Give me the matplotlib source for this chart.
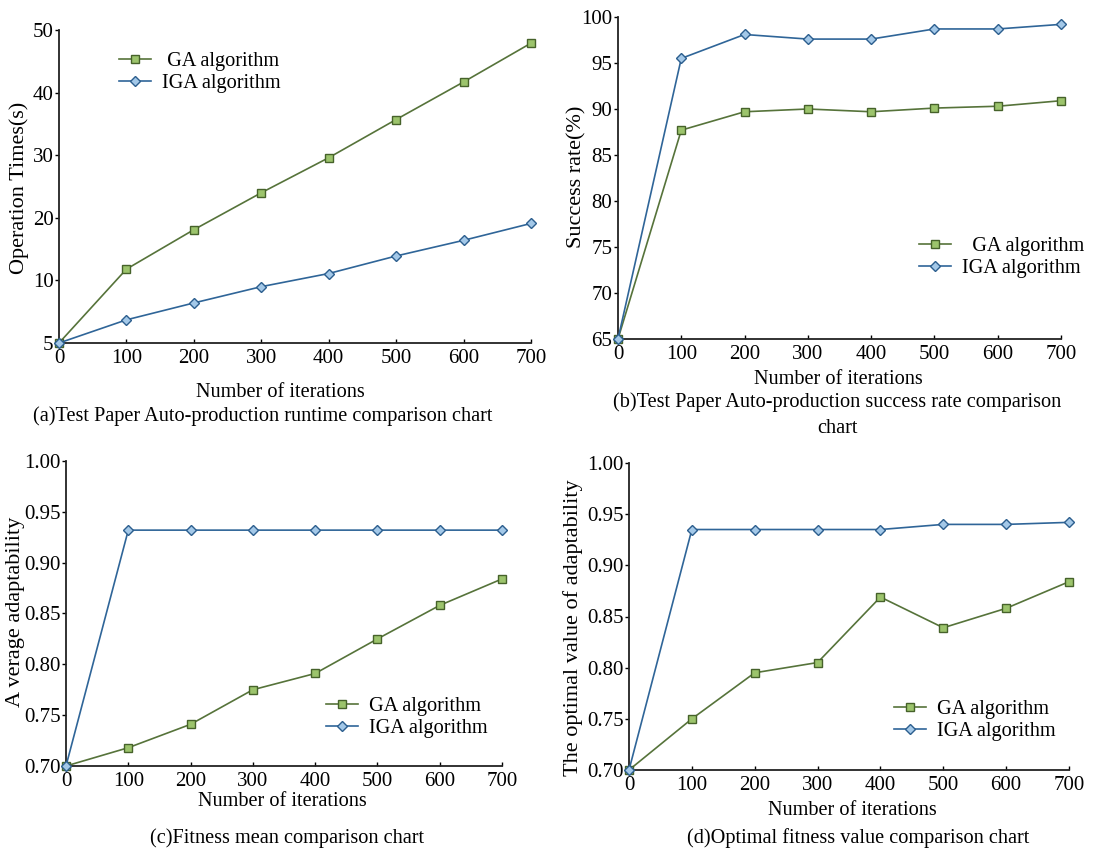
import matplotlib
matplotlib.use("Agg")
import matplotlib.pyplot as plt

plt.rcParams['font.family'] = ['Liberation Serif', 'DejaVu Serif']
plt.rcParams['font.size'] = 15

W, H = 1118, 848

iterations = [0, 100, 200, 300, 400, 500, 600, 700]

# (a) runtime
ga_time = [0, 11.8, 18.1, 24.0, 29.6, 35.7, 41.7, 47.9]
iga_time = [0, 3.7, 6.4, 9.0, 11.1, 13.9, 16.4, 19.1]
time_ticks = [0, 10, 20, 30, 40, 50]
time_labels = ['5', '10', '20', '30', '40', '50']

# (b) success rate
ga_rate = [65, 87.7, 89.7, 90.0, 89.7, 90.1, 90.3, 90.9]
iga_rate = [65, 95.5, 98.1, 97.6, 97.6, 98.7, 98.7, 99.2]

# (c) fitness mean
ga_mean = [0.700, 0.718, 0.741, 0.775, 0.791, 0.825, 0.858, 0.884]
iga_mean = [0.700, 0.932, 0.932, 0.932, 0.932, 0.932, 0.932, 0.932]

# (d) optimal fitness
ga_best = [0.700, 0.750, 0.795, 0.805, 0.869, 0.839, 0.858, 0.884]
iga_best = [0.700, 0.935, 0.935, 0.935, 0.935, 0.940, 0.940, 0.942]

ga_name = 'GA algorithm'
iga_name = 'IGA algorithm'

GA_LINE, GA_FACE, GA_EDGE = '#56733a', '#9cc46c', '#46622a'
IGA_LINE, IGA_FACE, IGA_EDGE = '#2f6598', '#a3c8e8', '#2c5e8e'

TXT = 14.6


def px_axes(l, t, r, b):
    return fig.add_axes([l / W, 1 - b / H, (r - l) / W, (b - t) / H])


def fpos(x, y):
    return x / W, 1 - y / H


fig = plt.figure(figsize=(W / 100, H / 100), dpi=100)

panels = [
    dict(box=(59, 30, 531, 343), ga=ga_time, iga=iga_time, ylim=(0, 50),
         yt=time_ticks, ytl=time_labels, ylabel='Operation Times(s)',
         ylpos=(19, 188), xlpos=(280, 396.7),
         cap=[('(a)Test Paper Auto-production runtime comparison chart', 263, 420.7)],
         leg=(119, 52), ganame=' ' + ga_name),
    dict(box=(618, 17, 1061, 339), ga=ga_rate, iga=iga_rate, ylim=(65, 100),
         yt=[65, 70, 75, 80, 85, 90, 95, 100], ytl=None, ylabel='Success rate(%)',
         ylpos=(577, 177), xlpos=(838, 384),
         cap=[('(b)Test Paper Auto-production success rate comparison', 837, 407.3),
              ('chart', 837, 433.3)],
         leg=(919, 237), ganame='  ' + ga_name),
    dict(box=(66, 461, 502, 766), ga=ga_mean, iga=iga_mean, ylim=(0.70, 1.00),
         yt=[0.70, 0.75, 0.80, 0.85, 0.90, 0.95, 1.00], ytl=None, ylabel='A verage adaptability',
         ylpos=(16, 612), xlpos=(282, 806),
         cap=[('(c)Fitness mean comparison chart', 287, 843.3)],
         leg=(326, 697), ganame=ga_name),
    dict(box=(629, 463, 1069, 770), ga=ga_best, iga=iga_best, ylim=(0.70, 1.00),
         yt=[0.70, 0.75, 0.80, 0.85, 0.90, 0.95, 1.00], ytl=None,
         ylabel='The optimal value of adaptability',
         ylpos=(573, 628), xlpos=(852, 815),
         cap=[('(d)Optimal fitness value comparison chart', 858, 843.3)],
         leg=(894, 700), ganame=ga_name),
]

for p in panels:
    ax = px_axes(*p['box'])
    ax.plot(iterations, p['ga'], color=GA_LINE, lw=1.2, marker='s', ms=5.5,
            mfc=GA_FACE, mec=GA_EDGE, mew=1.0, label=p['ganame'], clip_on=False, zorder=3)
    ax.plot(iterations, p['iga'], color=IGA_LINE, lw=1.2, marker='D', ms=5,
            mfc=IGA_FACE, mec=IGA_EDGE, mew=1.0, label=iga_name, clip_on=False, zorder=3)
    ax.set_xlim(0, 700)
    ax.set_ylim(*p['ylim'])
    ax.set_xticks(iterations)
    ax.set_yticks(p['yt'])
    if p['ytl'] is not None:
        ax.set_yticklabels(p['ytl'])
    elif p['ylim'][1] == 1.00:
        ax.set_yticklabels(['%.2f' % v for v in p['yt']])
    for s in ('top', 'right'):
        ax.spines[s].set_visible(False)
    for s in ('left', 'bottom'):
        ax.spines[s].set_linewidth(1.3)
        ax.spines[s].set_color('#222222')
    ax.tick_params(axis='x', direction='in', length=3, width=1, pad=4, labelsize=15)
    ax.tick_params(axis='y', direction='out', length=3, width=1, pad=1, labelsize=15)

    l, t, r, b = p['box']
    ax.set_xlabel('Number of iterations', fontsize=TXT, va='baseline')
    ax.xaxis.set_label_coords((p['xlpos'][0] - l) / (r - l), (b - p['xlpos'][1]) / (b - t))
    ax.set_ylabel(p['ylabel'], fontsize=16, va='center')
    ax.yaxis.set_label_coords((p['ylpos'][0] - l) / (r - l), (b - p['ylpos'][1]) / (b - t))

    for txt, cx, cy in p['cap']:
        fig.text(*fpos(cx, cy), txt, ha='center', va='baseline', fontsize=TXT)

    lx, ly = p['leg']
    ax.legend(loc='upper left', bbox_to_anchor=fpos(lx, ly), bbox_transform=fig.transFigure,
              frameon=False, borderpad=0, borderaxespad=0, handlelength=1.6,
              handletextpad=0.5, labelspacing=0.12, fontsize=TXT)

fig.savefig('out.png', dpi=100)
